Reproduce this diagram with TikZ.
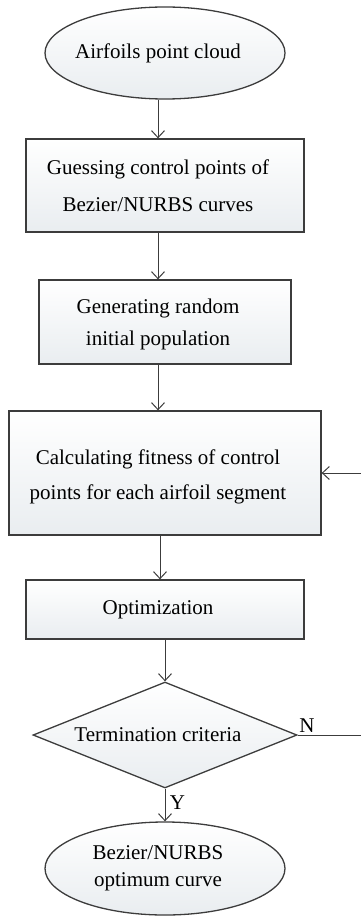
\documentclass[tikz,border=0pt]{standalone}
\usepackage{fontspec}
\setmainfont{Liberation Serif}
\usetikzlibrary{shapes.geometric, arrows.meta}

\definecolor{edgegray}{RGB}{60,60,60}
\definecolor{shadegray}{RGB}{233,237,240}

\tikzset{
    base/.style={draw=edgegray, line width=1.3pt, top color=white, bottom color=shadegray, inner sep=0pt},
    procbox/.style={base, rectangle},
    termbox/.style={base, ellipse},
    testbox/.style={base, diamond, aspect=2.5},
    txt/.style={align=center, font=\fontsize{21}{35}\selectfont, xshift=-7pt},
    arr/.style={draw=edgegray, line width=1pt, -{Straight Barb[length=7pt, width=13pt]}},
    lbl/.style={font=\fontsize{21}{21}\selectfont}
}

\begin{document}
\begin{tikzpicture}[x=1pt, y=-1pt]
    \useasboundingbox (0,0) rectangle (360,917);

    % Flow steps (text sits a little left of each shape's centre)
    \node[termbox, minimum width=240pt, minimum height=92pt,
        label={[txt]center:Airfoils point cloud}] (cloud) at (165,53) {};
    \node[procbox, minimum width=278pt, minimum height=93pt,
        label={[txt, font=\fontsize{21}{37}\selectfont]center:Guessing control points of\\Bezier/NURBS curves}] (guess) at (165,185.5) {};
    \node[procbox, minimum width=252pt, minimum height=84pt,
        label={[txt, font=\fontsize{21}{32}\selectfont, yshift=-2pt]center:Generating random\\initial population}] (popul) at (165,322) {};
    \node[procbox, minimum width=312pt, minimum height=124pt,
        label={[txt, yshift=-4pt]center:Calculating fitness of control\\points for each airfoil segment}] (fitness) at (165,473) {};
    \node[procbox, minimum width=278pt, minimum height=59pt,
        label={[txt]center:Optimization}] (optim) at (165,609.5) {};
    \node[testbox, minimum width=264pt, minimum height=106pt,
        label={[txt]center:Termination criteria}] (term) at (165,735) {};
    \node[termbox, minimum width=240pt, minimum height=93pt,
        label={[txt, font=\fontsize{21}{27}\selectfont]center:Bezier/NURBS\\optimum curve}] (result) at (165,868.5) {};

    % Guide lines for the arrows
    \coordinate (spine) at (158,0);
    \coordinate (spineb) at (160,0);
    \coordinate (loop) at (367,0);

    % Connectors
    \draw[arr] (cloud.south -| spine) -- (guess.north -| spine);
    \draw[arr] (guess.south -| spine) -- (popul.north -| spine);
    \draw[arr] (popul.south -| spine) -- (fitness.north -| spine);
    \draw[arr] (fitness.south -| spineb) -- (optim.north -| spineb);
    \draw[arr] (optim) -- (term);
    \draw[arr] (term) -- (result) node[lbl, pos=0.42, right=1pt] {Y};
    \draw[arr] (term.east) -- (term.east -| loop) -- (fitness.east -| loop) -- (fitness.east);
    \node[lbl] (nlabel) at (307,726) {N};
\end{tikzpicture}
\end{document}
